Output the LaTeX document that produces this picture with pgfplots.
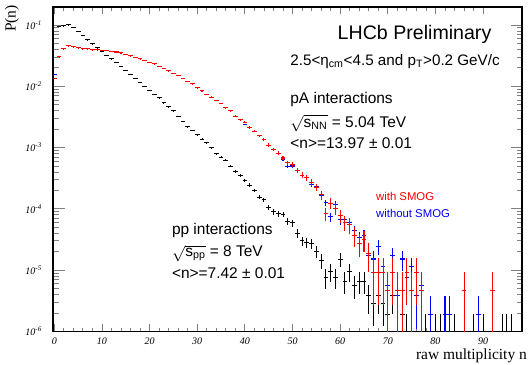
\documentclass[border=0pt]{standalone}
\usepackage{pgfplots}
\pgfplotsset{compat=1.18}
\usepackage{pgfplotstable}
\usepackage{fontspec}
\setmainfont{Liberation Sans}
\newfontfamily\timesfont{Liberation Serif}

% pp interactions (black): n, P(n), relative error plus, relative error minus
\pgfplotstableread{
n p ep em
1 0.0955 0.0032 0.0032
2 0.0977 0.0031 0.0031
3 0.101 0.0031 0.0031
4 0.0912 0.0032 0.0032
5 0.0794 0.0035 0.0035
6 0.0676 0.0037 0.0037
7 0.0575 0.0041 0.0041
8 0.0495 0.0044 0.0044
9 0.0427 0.0047 0.0047
10 0.0372 0.0051 0.0051
11 0.0324 0.0054 0.0054
12 0.0282 0.0058 0.0058
13 0.0245 0.0062 0.0062
14 0.0214 0.0067 0.0067
15 0.0184 0.0072 0.0072
16 0.0158 0.0078 0.0078
17 0.0136 0.0084 0.0084
18 0.0117 0.0090 0.0090
19 0.0100 0.0097 0.0097
20 0.00871 0.0104 0.0104
21 0.00741 0.0113 0.0113
22 0.00646 0.0121 0.0121
23 0.00537 0.0133 0.0133
24 0.00468 0.0142 0.0142
25 0.00398 0.0154 0.0154
26 0.00324 0.0171 0.0171
27 0.00269 0.0188 0.0188
28 0.00219 0.0208 0.0208
29 0.00191 0.0223 0.0223
30 0.00162 0.0242 0.0242
31 0.00138 0.0262 0.0262
32 0.00120 0.0281 0.0281
33 0.00100 0.0308 0.0308
34 0.000794 0.0346 0.0346
35 0.000692 0.0371 0.0371
36 0.000617 0.0392 0.0392
37 0.000501 0.0435 0.0435
38 0.000407 0.0483 0.0483
39 0.000347 0.0523 0.0523
40 0.000295 0.0567 0.0567
41 0.000245 0.0623 0.0623
42 0.000200 0.0689 0.0689
43 0.000155 0.0783 0.0783
44 0.000141 0.0821 0.0821
45 0.000107 0.0942 0.0942
46 8.9e-5 0.103 0.103
47 8.3e-5 0.107 0.107
48 8.1e-5 0.108 0.108
49 6.3e-5 0.123 0.123
50 5.9e-5 0.127 0.127
51 4.0e-5 0.154 0.154
52 3.0e-5 0.178 0.178
53 2.85e-5 0.183 0.183
54 2.75e-5 0.186 0.186
55 2.0e-5 0.218 0.218
56 1.43e-5 0.258 0.258
57 7.6e-6 0.354 0.354
58 9.5e-6 0.316 0.316
59 7.6e-6 0.354 0.354
60 1.52e-5 0.25 0.25
61 6.65e-6 0.378 0.378
62 9.5e-6 0.316 0.316
63 5.7e-6 0.408 0.408
64 6.65e-6 0.378 0.378
65 6.65e-6 0.378 0.378
66 3.8e-6 0.5 0.5
67 2.85e-6 0.577 0.577
68 3.8e-6 0.5 0.5
69 2.85e-6 0.577 0.577
70 1.9e-6 0.707 0.707
71 3.8e-6 0.5 0.5
72 9.5e-7 1 0.999
73 1.9e-6 0.707 0.707
74 9.5e-7 1 0.999
77 9.5e-7 1 0.999
78 9.5e-7 1 0.999
80 9.5e-7 1 0.999
81 9.5e-7 1 0.999
84 9.5e-7 1 0.999
88 9.5e-7 1 0.999
90 9.5e-7 1 0.999
94 9.5e-7 1 0.999
95 9.5e-7 1 0.999
96 9.5e-7 1 0.999
98 9.5e-7 1 0.999
}\ppdata

% pA with SMOG (red)
\pgfplotstableread{
n p ep em
0 0.0135 0.0185 0.0185
1 0.0302 0.0123 0.0123
2 0.0407 0.0106 0.0106
3 0.0457 0.0100 0.0100
4 0.0442 0.0102 0.0102
5 0.0427 0.0104 0.0104
6 0.0412 0.0106 0.0106
7 0.0407 0.0106 0.0106
8 0.0398 0.0108 0.0108
9 0.0394 0.0108 0.0108
10 0.0389 0.0109 0.0109
11 0.0385 0.0109 0.0109
12 0.0372 0.0111 0.0111
13 0.0363 0.0113 0.0113
14 0.0351 0.0114 0.0114
15 0.0335 0.0117 0.0117
16 0.0316 0.0121 0.0121
17 0.0299 0.0124 0.0124
18 0.0282 0.0128 0.0128
19 0.0266 0.0132 0.0132
20 0.0248 0.0136 0.0136
21 0.0232 0.0141 0.0141
22 0.0214 0.0147 0.0147
23 0.0197 0.0153 0.0153
24 0.0180 0.0160 0.0160
25 0.0164 0.0167 0.0167
26 0.0151 0.0175 0.0175
27 0.0135 0.0185 0.0185
28 0.0120 0.0196 0.0196
29 0.0110 0.0204 0.0204
30 0.00955 0.0219 0.0219
31 0.00851 0.0232 0.0232
32 0.00741 0.0249 0.0249
33 0.00668 0.0262 0.0262
34 0.00589 0.0279 0.0279
35 0.00525 0.0296 0.0296
36 0.00447 0.0321 0.0321
37 0.00398 0.0340 0.0340
38 0.00327 0.0375 0.0375
39 0.00285 0.0402 0.0402
40 0.00260 0.0421 0.0421
41 0.00211 0.0467 0.0467
42 0.00186 0.0497 0.0497
43 0.00155 0.0545 0.0545
44 0.00135 0.0584 0.0584
45 0.00110 0.0647 0.0647
46 0.000933 0.0702 0.0702
47 0.000813 0.0752 0.0752
48 0.000676 0.0825 0.0825
49 0.000562 0.0905 0.0905
50 0.000525 0.0936 0.0936
51 0.000427 0.104 0.104
52 0.000355 0.114 0.114
53 0.000324 0.119 0.119
54 0.000269 0.131 0.131
55 2.25e-4 0.143 0.143
56 1.70e-4 0.164 0.164
57 8.3e-5 0.236 0.236
58 1.24e-4 0.192 0.192
59 1.01e-4 0.213 0.213
60 7.8e-5 0.243 0.243
61 6.0e-5 0.277 0.277
62 5.5e-5 0.289 0.289
63 3.7e-5 0.354 0.354
64 2.76e-5 0.408 0.408
65 3.2e-5 0.378 0.378
66 1.84e-5 0.5 0.5
67 9.2e-6 0.707 0.707
68 9.2e-6 0.707 0.707
69 9.2e-6 0.707 0.707
70 4.6e-6 1 0.999
71 9.2e-6 0.707 0.707
72 4.6e-6 1 0.999
73 4.6e-6 1 0.999
74 9.2e-6 0.707 0.707
75 4.6e-6 1 0.999
76 9.2e-6 0.707 0.707
77 4.6e-6 1 0.999
86 4.6e-6 1 0.999
92 4.6e-6 1 0.999
}\smogdata

% pA without SMOG (blue)
\pgfplotstableread{
n p ep em
0 0.0158 0.011 0.011
1 0.0302 0.0079 0.0079
2 0.0407 0.0068 0.0068
3 0.0457 0.0064 0.0064
4 0.0442 0.0066 0.0066
5 0.0427 0.0067 0.0067
6 0.0412 0.0068 0.0068
7 0.0407 0.0068 0.0068
8 0.0398 0.0069 0.0069
9 0.0394 0.0069 0.0069
10 0.0389 0.0070 0.0070
11 0.0385 0.0070 0.0070
12 0.0372 0.0071 0.0071
13 0.0363 0.0073 0.0073
14 0.0351 0.0073 0.0073
15 0.0335 0.0075 0.0075
16 0.0316 0.0078 0.0078
17 0.0299 0.0080 0.0080
18 0.0282 0.0082 0.0082
19 0.0266 0.0085 0.0085
20 0.0248 0.0087 0.0087
21 0.0232 0.0091 0.0091
22 0.0214 0.0094 0.0094
23 0.0197 0.0098 0.0098
24 0.0180 0.0103 0.0103
25 0.0164 0.0107 0.0107
26 0.0151 0.0112 0.0112
27 0.0135 0.0119 0.0119
28 0.0120 0.0126 0.0126
29 0.0110 0.0131 0.0131
30 0.00955 0.0141 0.0141
31 0.00851 0.0149 0.0149
32 0.00741 0.0160 0.0160
33 0.00668 0.0168 0.0168
34 0.00589 0.0179 0.0179
35 0.00525 0.0190 0.0190
36 0.00447 0.0206 0.0206
37 0.00398 0.0218 0.0218
38 0.00327 0.0241 0.0241
39 0.00285 0.0258 0.0258
40 0.00240 0.0281 0.0281
41 0.00211 0.0300 0.0300
42 0.00186 0.0319 0.0319
43 0.00155 0.0350 0.0350
44 0.00135 0.0375 0.0375
45 0.00110 0.0416 0.0416
46 0.000933 0.0451 0.0451
47 0.000813 0.0483 0.0483
48 0.000646 0.0542 0.0542
49 0.000490 0.0623 0.0623
50 0.000501 0.0616 0.0616
51 0.000427 0.0667 0.0667
52 0.000355 0.0732 0.0732
53 0.000324 0.0766 0.0766
54 0.000251 0.087 0.087
55 2.28e-4 0.091 0.091
56 1.65e-4 0.107 0.107
57 1.25e-4 0.123 0.123
58 7.4e-5 0.160 0.160
59 1.18e-4 0.127 0.127
60 6.65e-5 0.169 0.169
61 6.65e-5 0.169 0.169
62 6.08e-5 0.177 0.177
63 4.37e-5 0.209 0.209
64 3.42e-5 0.236 0.236
65 3.61e-5 0.229 0.229
66 1.71e-5 0.333 0.333
67 1.52e-5 0.354 0.354
68 2.47e-5 0.277 0.277
69 1.14e-5 0.408 0.408
70 5.7e-6 0.577 0.577
71 1.71e-5 0.333 0.333
72 3.8e-6 0.707 0.707
73 1.52e-5 0.354 0.354
74 7.6e-6 0.5 0.5
75 1.14e-5 0.408 0.408
76 3.8e-6 0.707 0.707
77 5.7e-6 0.577 0.577
79 1.9e-6 1 0.999
82 1.9e-6 1 0.999
83 1.9e-6 1 0.999
89 1.9e-6 1 0.999
}\nosmogdata

\begin{document}
\begin{tikzpicture}
\begin{axis}[
  scale only axis,
  width=351.5pt, height=243.2pt,
  ymode=log,
  xmin=-0.2, xmax=98.2,
  ymin=1e-6, ymax=0.197,
  xtick={0,10,...,90},
  minor x tick num=4,
  ytick={1e-6,1e-5,1e-4,1e-3,1e-2,1e-1},
  yticklabels={10\textsuperscript{-6},10\textsuperscript{-5},10\textsuperscript{-4},10\textsuperscript{-3},10\textsuperscript{-2},10\textsuperscript{-1}},
  tick align=inside,
  tick pos=both,
  axis line style={line width=1.3pt},
  xtick style={line width=0.6pt, /pgfplots/major tick length=5.25pt, /pgfplots/minor tick length=2.7pt},
  ytick style={line width=0.6pt, /pgfplots/major tick length=8.5pt, /pgfplots/minor tick length=4pt},
  /pgf/number format/assume math mode=true,
  xticklabel style={font=\timesfont\itshape\fontsize{7.5}{8}\selectfont, yshift=-1pt},
  yticklabel style={font=\timesfont\itshape\fontsize{7.5}{8}\selectfont, xshift=-5pt},
  clip=true,
]
\addplot[draw=none, mark=none, error bars/.cd, x dir=both, x fixed=0.5, y dir=both, y explicit relative, error mark=none,
  error bar style={draw=black, solid, line width=0.7pt}]
  table[x=n, y=p, y error plus=ep, y error minus=em] {\ppdata};
\addplot[draw=none, mark=none, error bars/.cd, x dir=both, x fixed=0.5, y dir=both, y explicit relative, error mark=none,
  error bar style={draw=blue, solid, line width=0.8pt}]
  table[x=n, y=p, y error plus=ep, y error minus=em] {\nosmogdata};
\addplot[draw=none, mark=none, error bars/.cd, x dir=both, x fixed=0.5, y dir=both, y explicit relative, error mark=none,
  error bar style={draw=red, solid, line width=0.8pt}]
  table[x=n, y=p, y error plus=ep, y error minus=em] {\smogdata};

\node[anchor=base west, font=\fontsize{14.7}{16}\selectfont, inner sep=0pt] at (rel axis cs:0.606,0.900) {LHCb Preliminary};
\node[anchor=base west, font=\fontsize{11.4}{13}\selectfont, inner sep=0pt] at (rel axis cs:0.505,0.821) {2.5<η\textsubscript{cm}<4.5 and p\textsubscript{T}>0.2 GeV/c};
\node[anchor=base west, font=\fontsize{11.6}{13}\selectfont, inner sep=0pt] at (rel axis cs:0.505,0.704) {pA interactions};
\node[anchor=base west, font=\fontsize{11.6}{13}\selectfont, inner sep=0pt] at (rel axis cs:0.505,0.630) {$\sqrt{\mbox{s}_{\mbox{\fontsize{8}{9}\selectfont NN}}}$ = 5.04 TeV};
\node[anchor=base west, font=\fontsize{11.6}{13}\selectfont, inner sep=0pt] at (rel axis cs:0.505,0.565) {<n>=13.97 ± 0.01};
\node[anchor=base west, font=\fontsize{11.6}{13}\selectfont, inner sep=0pt] at (rel axis cs:0.2525,0.298) {pp interactions};
\node[anchor=base west, font=\fontsize{11.6}{13}\selectfont, inner sep=0pt] at (rel axis cs:0.2525,0.232) {$\sqrt{\mbox{s}_{\mbox{\fontsize{8}{9}\selectfont pp}}}$ = 8 TeV};
\node[anchor=base west, font=\fontsize{11.6}{13}\selectfont, inner sep=0pt] at (rel axis cs:0.2525,0.164) {<n>=7.42 ± 0.01};
\node[anchor=base west, font=\fontsize{8.5}{10}\selectfont, inner sep=0pt, text=red] at (rel axis cs:0.688,0.405) {with SMOG};
\node[anchor=base west, font=\fontsize{8.5}{10}\selectfont, inner sep=0pt, text=blue] at (rel axis cs:0.688,0.352) {without SMOG};
\end{axis}
\node[rotate=90, anchor=east, font=\timesfont\fontsize{11.6}{13}\selectfont, inner sep=0pt] at ([xshift=-31pt, yshift=1.5pt]current axis.north west) {P(n)};
\node[anchor=base east, font=\timesfont\fontsize{11.6}{13}\selectfont, inner sep=0pt] at ([xshift=3.7pt, yshift=-20.8pt]current axis.south east) {raw multiplicity n};
\pgfresetboundingbox
\path ([shift={(-40pt,-24.75pt)}]current axis.south west) rectangle ([shift={(4.35pt,5.25pt)}]current axis.north east);
\end{tikzpicture}
\end{document}
